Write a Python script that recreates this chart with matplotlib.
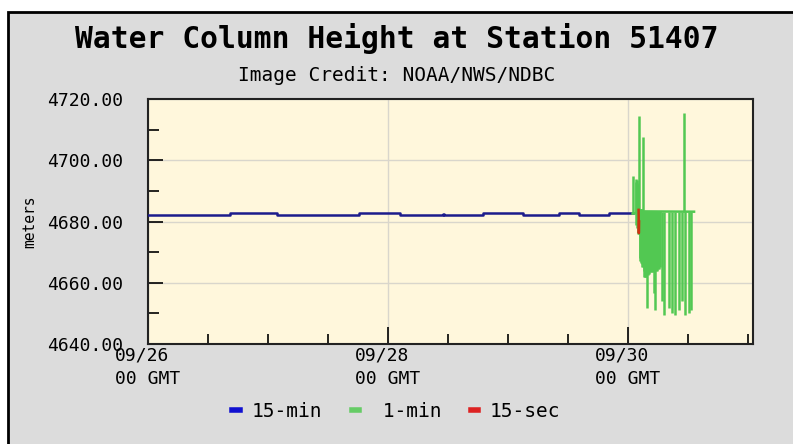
import matplotlib
matplotlib.use("Agg")
import matplotlib.pyplot as plt
from matplotlib.patches import Rectangle
from matplotlib.lines import Line2D

# hours since 09/26 00 GMT
fifteen_min_hours = [0, 16.5, 25.9, 42.2, 50.5, 59.0, 59.3, 67.1, 75.1, 82.2, 86.2, 92.2, 97.1]
fifteen_min_vals = [4682.2, 4682.8, 4682.2, 4682.8, 4682.2, 4682.6, 4682.2, 4682.8, 4682.2,
                    4682.8, 4682.2, 4682.8, 4682.8]

# 1-min readings: each drawn as a vertical excursion (low to high)
one_min_hours = [97.1, 97.6, 97.7, 97.8, 97.9, 98.0, 98.3, 98.4, 98.5, 98.6, 98.7, 98.8, 98.9,
                 99.0, 99.1, 99.2, 99.3, 99.4, 99.5, 99.6, 99.7, 99.85, 100.0, 100.2, 100.4,
                 100.6, 100.8, 101.0, 101.2, 101.35, 101.5, 101.7, 101.9, 102.1, 102.3, 102.5,
                 102.8, 103.3, 104.2, 104.8, 105.5, 106.2, 106.8, 107.3, 107.5, 108.2, 108.6]
one_min_low = [4682.5, 4682.5, 4679.0, 4678.0, 4680.0, 4676.0, 4676.0, 4668.0, 4667.0, 4666.5,
               4667.0, 4666.0, 4665.0, 4665.5, 4665.0, 4664.0, 4662.0, 4662.0, 4662.0, 4662.5,
               4662.0, 4651.7, 4662.5, 4663.0, 4663.5, 4663.5, 4663.5, 4663.5, 4656.6, 4664.0,
               4651.0, 4664.0, 4664.0, 4664.5, 4664.5, 4665.0, 4654.0, 4649.5, 4651.7, 4650.0,
               4649.5, 4651.0, 4654.0, 4683.0, 4649.5, 4650.0, 4651.0]
one_min_high = [4695.0, 4694.0, 4693.0, 4692.5, 4693.5, 4692.0, 4714.5, 4684.0, 4684.0, 4684.0,
                4684.0, 4684.0, 4683.5, 4683.5, 4707.7, 4683.5, 4683.5, 4683.5, 4683.5, 4683.5,
                4683.5, 4683.5, 4683.5, 4683.5, 4683.5, 4683.5, 4683.5, 4683.5, 4683.5, 4683.5,
                4683.5, 4683.5, 4683.5, 4683.5, 4683.5, 4683.5, 4683.2, 4683.2, 4683.2, 4683.2,
                4683.2, 4683.2, 4683.2, 4715.5, 4683.2, 4683.2, 4683.2]
one_min_base_hours = [97.0, 99.5, 109.3]
one_min_base_vals = [4682.6, 4683.3, 4683.2]

fifteen_sec_hours = [98.2, 98.25, 98.3]
fifteen_sec_vals = [4683.8, 4676.2, 4680.0]

x_ticks = [0, 48, 96]
x_labels = ["09/26\n00 GMT", "09/28\n00 GMT", "09/30\n00 GMT"]
y_ticks = [4640, 4660, 4680, 4700, 4720]

mono = "DejaVu Sans Mono"

fig = plt.figure(figsize=(7.93, 4.44), dpi=100, facecolor="white")
fig.patches.append(Rectangle((8 / 793, -0.02), 1.0, 1 - 12 / 444 + 0.02, transform=fig.transFigure,
                             facecolor="#dcdcdc", edgecolor="black", linewidth=2, zorder=-10))

ax = fig.add_axes([148 / 793, 1 - 344 / 444, 605 / 793, 245 / 444])
ax.set_facecolor("#fff7dc")

green = "#52c852"
ax.plot(fifteen_min_hours, fifteen_min_vals, color="#1c1c8c", linewidth=1.8, drawstyle="steps-post", zorder=3)
ax.vlines(one_min_hours, one_min_low, one_min_high, color=green, linewidth=1.8, zorder=4)
ax.plot(one_min_base_hours, one_min_base_vals, color=green, linewidth=1.8, zorder=4)
ax.plot(fifteen_sec_hours, fifteen_sec_vals, color="#cc3311", linewidth=1.8, zorder=5)

ax.set_xlim(0, 121.1)
ax.set_ylim(4640, 4720)
ax.set_xticks(x_ticks)
ax.set_xticklabels(x_labels, fontfamily=mono, fontsize=13, linespacing=1.35)
ax.set_xticks(range(12, 121, 12), minor=True)
ax.set_yticks(y_ticks)
ax.set_yticklabels([f"{v:.2f}" for v in y_ticks], fontfamily=mono, fontsize=13)
ax.set_yticks(range(4650, 4720, 20), minor=True)
for lab in ax.get_xticklabels():
    lab.set_multialignment("left")

ax.tick_params(axis="both", which="both", direction="in", colors="black")
ax.tick_params(axis="x", which="major", length=12, width=1.2, pad=2)
ax.tick_params(axis="x", which="minor", length=7, width=1.2)
ax.tick_params(axis="y", which="major", length=11, width=1.2, pad=18)
ax.tick_params(axis="y", which="minor", length=8, width=1.2)

ax.grid(True, which="major", color="#d9d6cc", linewidth=1)
ax.set_axisbelow(True)
for s in ax.spines.values():
    s.set_linewidth(1.5)
    s.set_color("#222222")

fig.text(0.038, 0.5, "meters", rotation=90, ha="center", va="center", fontfamily=mono, fontsize=10.5)
fig.text(0.5, 0.914, "Water Column Height at Station 51407", ha="center", va="center",
         fontfamily=mono, fontsize=21.3, fontweight="bold")
fig.text(0.5, 0.829, "Image Credit: NOAA/NWS/NDBC", ha="center", va="center",
         fontfamily=mono, fontsize=14)

handles = [Line2D([], [], color="#1010d0", linewidth=4),
           Line2D([], [], color="#66cc66", linewidth=4),
           Line2D([], [], color="#dd2222", linewidth=4)]
fig.legend(handles, ["15-min", " 1-min", "15-sec"], loc="center", bbox_to_anchor=(0.5, 0.074),
           ncol=3, frameon=False, handlelength=0.4, handletextpad=0.6, columnspacing=1.5,
           prop={"family": mono, "size": 14})

fig.savefig("out.png", dpi=100, facecolor=fig.get_facecolor())
